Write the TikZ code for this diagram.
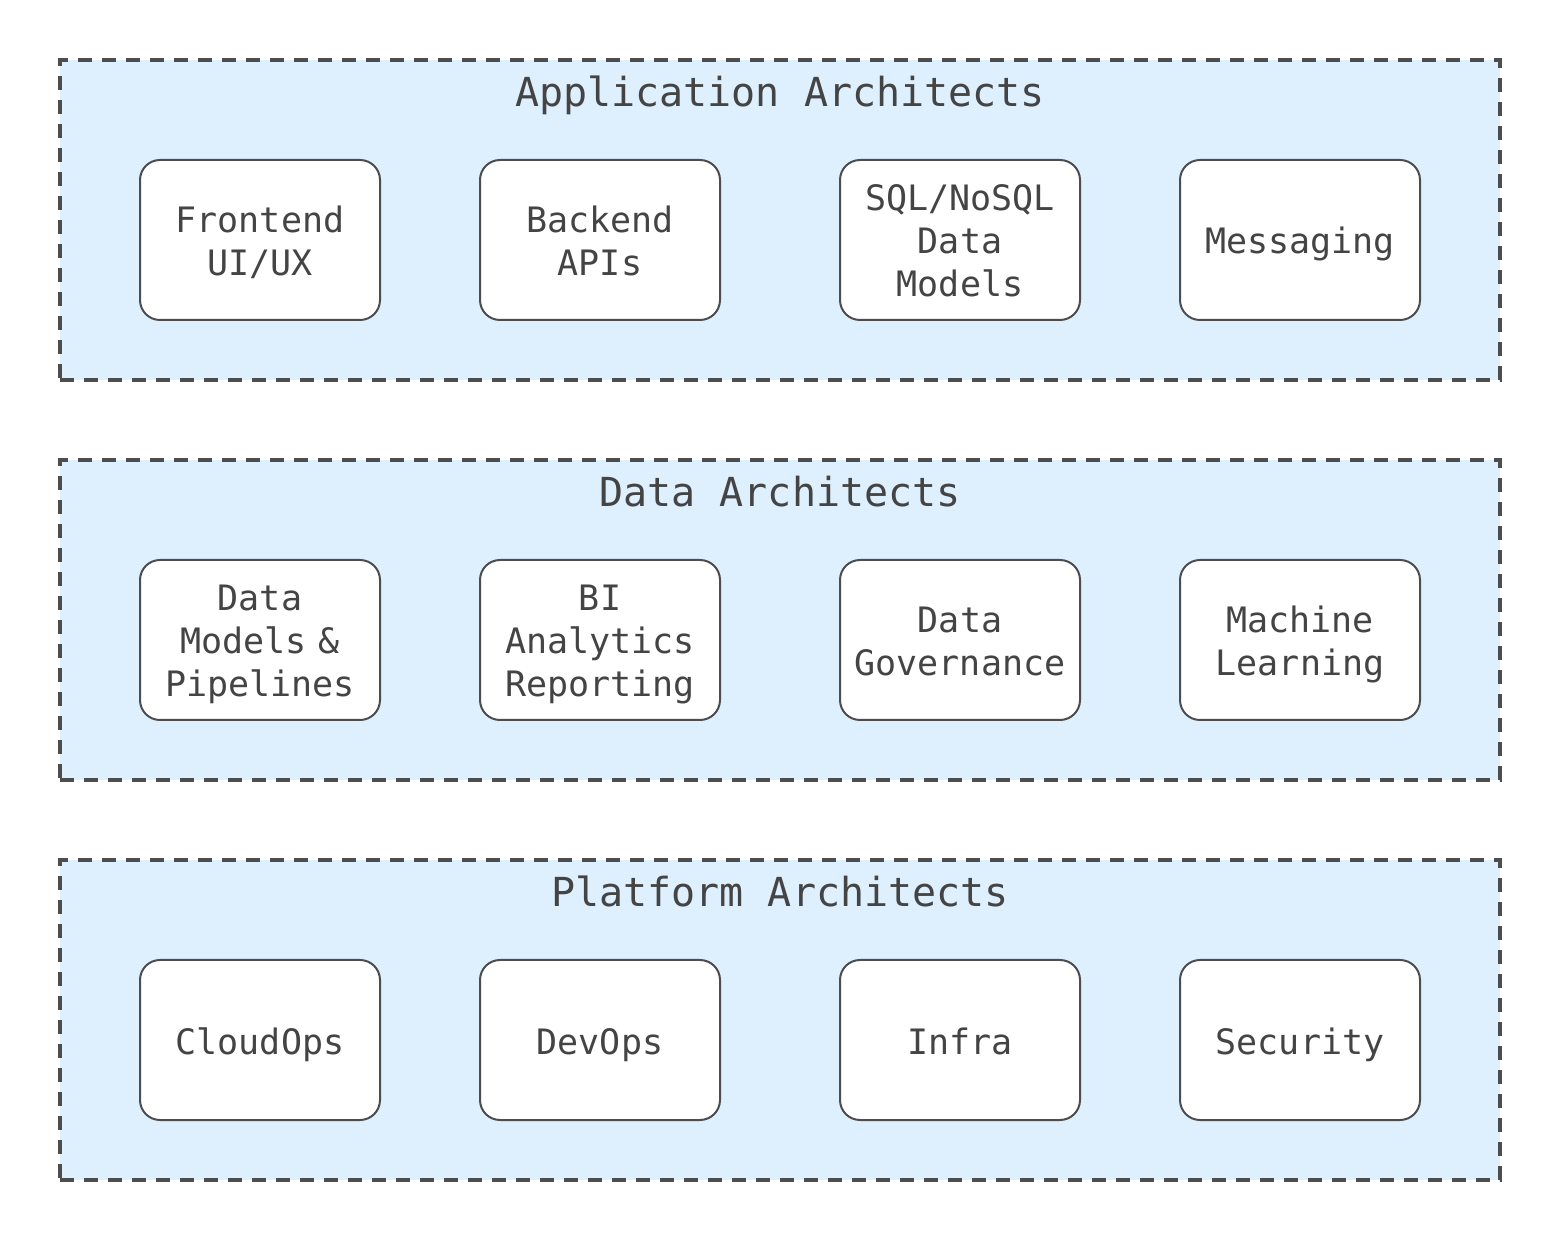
\documentclass[tikz,border=0pt]{standalone}
\usepackage{fontspec}
\setmonofont{DejaVu Sans Mono}
\usetikzlibrary{positioning}
\definecolor{groupfill}{HTML}{DEF0FE}
\definecolor{linegray}{HTML}{4D4D4D}
\definecolor{textgray}{HTML}{444444}

\begin{document}
\begin{tikzpicture}[x=0.5pt, y=-0.5pt,
    group/.style={draw=linegray, line width=1.6pt, dash pattern=on 7pt off 5pt, fill=groupfill, minimum width=720pt, minimum height=160pt, inner sep=0pt},
    grouptitle/.style={font=\ttfamily\fontsize{20}{24}\selectfont, text=textgray, text height=15pt, text depth=4pt},
    role/.style={draw=linegray, line width=1pt, fill=white, rounded corners=10pt, minimum width=120pt, minimum height=80pt, text width=116pt, align=center, inner sep=2pt, outer sep=0pt, font=\ttfamily\fontsize{17.5}{21.5}\selectfont, text=textgray, execute at begin node={\rule{0pt}{19pt}}, execute at end node={\rule[-5pt]{0pt}{5pt}}}]
            \useasboundingbox (0,0) rectangle (1560,1240);
            \node [group] (app) at (780,220) {};
            \node [group] (data) at (780,620) {};
            \node [group] (plat) at (780,1020) {};
            \node [grouptitle] (apptitle) at (780,96) {Application Architects};
            \node [grouptitle] (datatitle) at (780,496) {Data Architects};
            \node [grouptitle] (plattitle) at (780,896) {Platform Architects};
            \node [role] (fe) at (260,240) {Frontend\\UI/UX};
            \node [role, right=50pt of fe] (be) {Backend\\APIs};
            \node [role, right=60pt of be] (sql) {SQL/NoSQL\\Data\\Models};
            \node [role, right=50pt of sql] (msg) {Messaging};
            \node [role, below=120pt of fe] (dm) {Data\\Models \&\\Pipelines};
            \node [role, right=50pt of dm] (bi) {BI\\Analytics\\Reporting};
            \node [role, right=60pt of bi] (gov) {Data\\Governance};
            \node [role, right=50pt of gov] (ml) {Machine\\Learning};
            \node [role, below=120pt of dm] (cloud) {CloudOps};
            \node [role, right=50pt of cloud] (dev) {DevOps};
            \node [role, right=60pt of dev] (infra) {Infra};
            \node [role, right=50pt of infra] (sec) {Security};
        \end{tikzpicture}
\end{document}
